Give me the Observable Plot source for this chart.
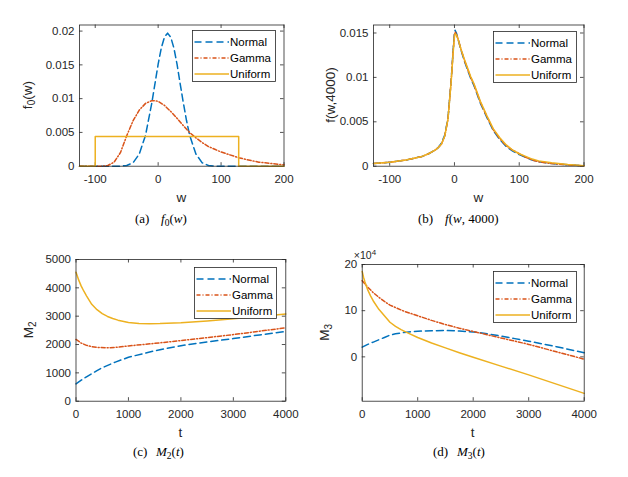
<!DOCTYPE html>
<html>
<head>
<meta charset="utf-8">
<script src="https://cdn.jsdelivr.net/npm/d3@7"></script>
<script src="https://cdn.jsdelivr.net/npm/@observablehq/plot@0.6"></script>
<style>
  html, body { margin: 0; padding: 0; background: #fff; overflow: hidden; }
  #fig { position: relative; width: 628px; height: 477px; background: #fff;
         font-family: "Liberation Sans", Arial, Helvetica, sans-serif; }
  #fig svg.plotpanel { position: absolute; }
  #overlay { position: absolute; left: 0; top: 0; pointer-events: none; }
</style>
</head>
<body>
<div id="fig"></div>
<script>
// ---------------- Data ----------------
const seriesNames = ["Normal", "Gamma", "Uniform"];

// (a) f0(w): initial densities
const aNormalW = [-125,-60,-50,-40,-30,-20,-10,0,5,10,15,20,25,30,35,40,45,50,60,70,80,90,200];
const aNormalF = [0,0,0.0001,0.0005,0.0018,0.0046,0.0094,0.0151,0.0175,0.0191,0.0197,0.0191,0.0175,0.0151,0.0122,0.0094,0.0068,0.0046,0.0018,0.0005,0.0001,0,0];
const aGammaW = [-125,-90,-80,-70,-60,-50,-40,-30,-20,-10,-5,0,10,20,30,40,50,60,70,80,90,100,110,120,130,140,150,160,170,180,190,200];
const aGammaF = [0,0,0.0001,0.0006,0.0020,0.0045,0.0067,0.0083,0.0093,0.0097,0.0097,0.0096,0.0090,0.0081,0.0071,0.0060,0.0050,0.0042,0.0035,0.0029,0.0025,0.0021,0.0018,0.0015,0.0012,0.0010,0.0008,0.0006,0.0005,0.0004,0.0003,0.0002];
const aUniformW = [-125,-100,-100,128,128,200];
const aUniformF = [0,0,0.0044,0.0044,0,0];

// (b) f(w, 4000)
const bW = [-125,-100,-75,-50,-40,-30,-25,-20,-15,-10,-5,-2,0,1,3,6,10,15,20,25,30,40,50,60,70,80,90,100,110,120,130,150,175,200];
const bNormalF  = [0.0003,0.00045,0.0007,0.0011,0.0014,0.0018,0.0021,0.0026,0.0035,0.0054,0.0098,0.0131,0.0150,0.0153,0.0150,0.0142,0.0131,0.0119,0.0109,0.0099,0.0091,0.0071,0.0055,0.0040,0.0030,0.0022,0.0017,0.0013,0.0010,0.0007,0.0005,0.0003,0.00015,0.00005];
const bGammaF   = [0.0003,0.00045,0.0007,0.0011,0.0014,0.0018,0.0021,0.0025,0.0034,0.0053,0.0097,0.0130,0.0148,0.0151,0.0149,0.0142,0.0132,0.0120,0.0110,0.0100,0.0092,0.0072,0.0056,0.0041,0.0031,0.0023,0.0018,0.0014,0.0010,0.0007,0.0005,0.0003,0.00015,0.00005];
const bUniformF = [0.0003,0.00045,0.0007,0.0011,0.0014,0.0018,0.0021,0.0025,0.0034,0.0053,0.0096,0.0128,0.0146,0.0149,0.0148,0.0142,0.0132,0.0121,0.0111,0.0101,0.0093,0.0073,0.0057,0.0042,0.0032,0.0024,0.0018,0.0014,0.0011,0.0008,0.0006,0.0004,0.0002,0.00005];

// (c) M2(t)
const cNormalT = [0,100,200,300,400,500,750,1000,1500,2000,2500,3000,3500,4000];
const cNormalM = [610,740,860,970,1080,1180,1380,1550,1780,1960,2090,2210,2340,2460];
const cGammaT = [0,100,200,300,400,600,800,1000,1500,2000,2500,3000,3500,4000];
const cGammaM = [2180,2050,1970,1925,1900,1885,1905,1950,2040,2140,2245,2350,2470,2590];
const cUniformT = [0,25,50,100,150,200,300,400,500,600,700,800,1000,1200,1400,1600,2000,2500,3000,3500,4000];
const cUniformM = [4550,4420,4280,4060,3880,3720,3420,3230,3090,2990,2920,2860,2780,2745,2735,2740,2770,2830,2910,2990,3080];

// (d) M3(t), in units of 10^4
const dNormalT = [0,100,200,300,400,500,600,800,1000,1250,1500,1750,2000,2250,2500,2750,3000,3500,4000];
const dNormalM = [2.1,2.7,3.2,3.7,4.2,4.7,5.0,5.35,5.55,5.65,5.7,5.6,5.4,5.0,4.5,3.95,3.4,2.2,0.9];
const dGammaT = [0,100,200,300,400,500,750,1000,1250,1500,1750,2000,2250,2500,2750,3000,3500,4000];
const dGammaM = [16.5,15.1,13.9,12.9,12.0,11.2,9.9,8.9,7.9,7.0,6.2,5.5,4.8,4.1,3.4,2.7,1.1,-0.5];
const dUniformT = [0,25,50,100,150,200,300,400,500,600,700,800,1000,1250,1500,1750,2000,2500,3000,3500,4000];
const dUniformM = [18.5,17.2,16.2,14.5,13.2,12.1,10.3,8.9,7.5,6.6,5.9,5.3,4.2,3.0,1.95,0.9,-0.1,-2.0,-3.9,-5.9,-7.9];

// Ticks
const wTicks = [-100, 0, 100, 200];
const aYTicks = [0, 0.005, 0.01, 0.015, 0.02];
const bYTicks = [0, 0.005, 0.01, 0.015];
const tTicks = [0, 1000, 2000, 3000, 4000];
const cYTicks = [0, 1000, 2000, 3000, 4000, 5000];
const dYTicks = [0, 10, 20];

// ---------------- Styles ----------------
const INK = "#262626";
const colors = {Normal: "#0072BD", Gamma: "#D95319", Uniform: "#EDB120"};
const dashes = {Normal: "7,4", Gamma: "4,2,1,2", Uniform: undefined};
const SANS = '"Liberation Sans", Arial, Helvetica, sans-serif';
const SERIF = '"Liberation Serif", "Times New Roman", serif';

function rows(xs, ys, name) { return xs.map((x, i) => ({x, y: ys[i], series: name})); }

const fig = document.getElementById("fig");

function makePanel(cfg) {
  const {left, top, width, height, frame, xDomain, yDomain, xTicks, yTicks, data, xLabel, yLabelHTML, yLabelX} = cfg;
  const [fx0, fy0, fx1, fy1] = frame;
  const fw = fx1 - fx0, fh = fy1 - fy0;
  const marks = [
    Plot.axisX(xTicks, {tickSize: 0, tickPadding: 9, tickFormat: d => String(d), label: null, fontSize: 11.5, fill: INK}),
    Plot.axisY(yTicks, {tickSize: 0, tickPadding: 5, tickFormat: d => String(d), label: null, fontSize: 11.5, fill: INK}),
    Plot.tickX(xTicks, {x: d => d, insetTop: fh - 3.5, stroke: INK, strokeWidth: 0.8}),
    Plot.tickX(xTicks, {x: d => d, insetBottom: fh - 3.5, stroke: INK, strokeWidth: 0.8}),
    Plot.tickY(yTicks, {y: d => d, insetRight: fw - 3.5, stroke: INK, strokeWidth: 0.8}),
    Plot.tickY(yTicks, {y: d => d, insetLeft: fw - 3.5, stroke: INK, strokeWidth: 0.8}),
    ...seriesNames.map(n => Plot.line(data.filter(r => r.series === n), {
      x: "x", y: "y", stroke: colors[n], strokeWidth: 1.5, strokeDasharray: dashes[n]
    })),
    Plot.frame({stroke: INK, strokeWidth: 0.8})
  ];
  const svg = Plot.plot({
    width, height,
    marginLeft: fx0 - left, marginRight: left + width - fx1,
    marginTop: fy0 - top, marginBottom: top + height - fy1,
    x: {domain: xDomain}, y: {domain: yDomain},
    style: {fontFamily: SANS, fontSize: "11.5px", color: INK, background: "transparent", overflow: "visible"},
    marks
  });
  svg.classList.add("plotpanel");
  svg.style.left = left + "px";
  svg.style.top = top + "px";
  const s = d3.select(svg);
  // x label
  s.append("text")
    .attr("x", (fx0 + fx1) / 2 - left).attr("y", cfg.xLabelY - top).attr("dy", "0.35em")
    .attr("text-anchor", "middle").attr("font-family", SANS).attr("font-size", 13.5).attr("fill", INK)
    .text(xLabel);
  // y label (rotated, may contain subscript)
  s.append("text")
    .attr("transform", `translate(${yLabelX - left},${(fy0 + fy1) / 2 - top}) rotate(-90)`)
    .attr("dy", "0.35em").attr("text-anchor", "middle")
    .attr("font-family", SANS).attr("font-size", 13.5).attr("fill", INK)
    .html(yLabelHTML);
  fig.appendChild(svg);
  return s;
}

// (a)
makePanel({
  left: 0, top: 0, width: 314, height: 236,
  frame: [79, 24.5, 283.5, 165.7],
  xDomain: [-125, 200], yDomain: [0, 0.0209],
  xTicks: wTicks, yTicks: aYTicks,
  data: [...rows(aNormalW, aNormalF, "Normal"), ...rows(aGammaW, aGammaF, "Gamma"), ...rows(aUniformW, aUniformF, "Uniform")],
  xLabel: "w", xLabelY: 197,
  yLabelX: 27, yLabelHTML: 'f<tspan dy="3" font-size="10">0</tspan><tspan dy="-3">(w)</tspan>'
});

// (b)
makePanel({
  left: 314, top: 0, width: 314, height: 236,
  frame: [373, 24.5, 583.5, 165.7],
  xDomain: [-125, 200], yDomain: [0, 0.0159],
  xTicks: wTicks, yTicks: bYTicks,
  data: [...rows(bW, bNormalF, "Normal"), ...rows(bW, bGammaF, "Gamma"), ...rows(bW, bUniformF, "Uniform")],
  xLabel: "w", xLabelY: 197,
  yLabelX: 330, yLabelHTML: 'f(w,4000)'
});

// (c)
makePanel({
  left: 0, top: 236, width: 314, height: 241,
  frame: [75.5, 259, 285.3, 400.7],
  xDomain: [0, 4000], yDomain: [0, 5000],
  xTicks: tTicks, yTicks: cYTicks,
  data: [...rows(cNormalT, cNormalM, "Normal"), ...rows(cGammaT, cGammaM, "Gamma"), ...rows(cUniformT, cUniformM, "Uniform")],
  xLabel: "t", xLabelY: 432,
  yLabelX: 28, yLabelHTML: 'M<tspan dy="3" font-size="10">2</tspan>'
});

// (d)
const dSel = makePanel({
  left: 314, top: 236, width: 314, height: 241,
  frame: [361.7, 264, 583.7, 400.7],
  xDomain: [0, 4000], yDomain: [-9.6, 20],
  xTicks: tTicks, yTicks: dYTicks,
  data: [...rows(dNormalT, dNormalM, "Normal"), ...rows(dGammaT, dGammaM, "Gamma"), ...rows(dUniformT, dUniformM, "Uniform")],
  xLabel: "t", xLabelY: 432,
  yLabelX: 324, yLabelHTML: 'M<tspan dy="3" font-size="10">3</tspan>'
});
// exponent label ×10^4
dSel.append("text")
  .attr("x", 365 - 314).attr("y", 259 - 236)
  .attr("font-family", SANS).attr("font-size", 10.5).attr("fill", INK)
  .html('×10<tspan dy="-4.5" font-size="8">4</tspan>');

// ---------------- Overlay: legends and captions ----------------
const ov = d3.select(fig).append("svg").attr("id", "overlay").attr("width", 628).attr("height", 477);

function legend(x, y, w, h) {
  const g = ov.append("g").attr("transform", `translate(${x},${y})`);
  g.append("rect").attr("x", 0.5).attr("y", 0.5).attr("width", w).attr("height", h)
    .attr("fill", "#fff").attr("stroke", INK).attr("stroke-width", 0.8);
  seriesNames.forEach((n, i) => {
    const cy = 12 + i * 16;
    g.append("line").attr("x1", 2.5).attr("x2", 37).attr("y1", cy).attr("y2", cy)
      .attr("stroke", colors[n]).attr("stroke-width", 1.5)
      .attr("stroke-dasharray", dashes[n] || null);
    g.append("text").attr("x", 38).attr("y", cy).attr("dy", "0.35em")
      .attr("font-family", SANS).attr("font-size", 11.5).attr("fill", "#000").text(n);
  });
}
legend(192, 30, 83, 51);
legend(493, 31, 83, 51);
legend(194, 267, 82, 51);
legend(493, 271, 83, 51);

function caption(x0, xm, y, tag, mathHTML) {
  const g = ov.append("g");
  g.append("text").attr("x", x0).attr("y", y).attr("font-family", SERIF).attr("font-size", 13).attr("fill", "#000").text(tag);
  g.append("text").attr("x", xm).attr("y", y).attr("font-family", SERIF).attr("font-size", 13).attr("fill", "#000").html(mathHTML);
}
caption(135, 161, 223, "(a)", '<tspan font-style="italic">f</tspan><tspan dy="2.5" font-size="9.5">0</tspan><tspan dy="-2.5">(</tspan><tspan font-style="italic">w</tspan>)');
caption(418, 445, 223, "(b)", '<tspan font-style="italic">f</tspan>(<tspan font-style="italic">w</tspan>, 4000)');
caption(133, 156, 456, "(c)", '<tspan font-style="italic">M</tspan><tspan dy="2.5" font-size="9.5">2</tspan><tspan dy="-2.5">(</tspan><tspan font-style="italic">t</tspan>)');
caption(433, 457, 456, "(d)", '<tspan font-style="italic">M</tspan><tspan dy="2.5" font-size="9.5">3</tspan><tspan dy="-2.5">(</tspan><tspan font-style="italic">t</tspan>)');
</script>
</body>
</html>
